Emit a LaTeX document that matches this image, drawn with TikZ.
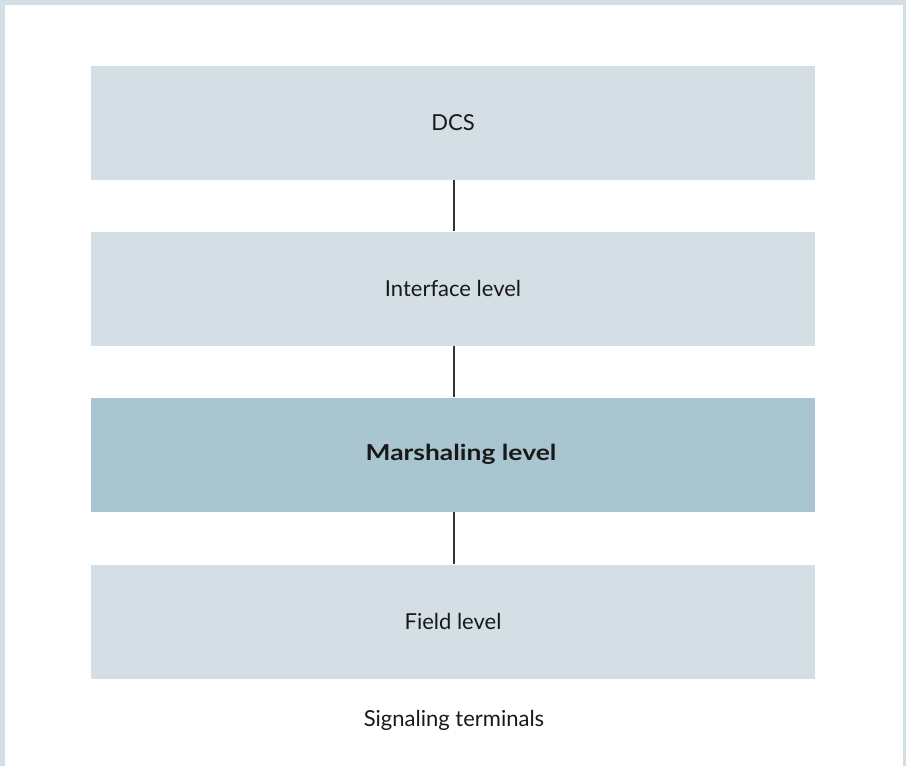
\documentclass[tikz,border=0pt]{standalone}
\usepackage{fontspec}
\setmainfont{Lato}
\newfontfamily\widebold[FakeStretch=1.2]{Lato Bold}
\definecolor{lightbox}{HTML}{D3DFE5}
\definecolor{darkbox}{HTML}{A9C5D0}
\definecolor{linegray}{HTML}{333333}
\begin{document}
\begin{tikzpicture}[x=1pt,y=-1pt,
  levelbox/.style={fill=lightbox, draw=none, minimum width=724pt, minimum height=114pt, inner sep=0pt, font=\fontsize{22}{26}\selectfont, text=black!90},
  conn/.style={draw=linegray, line width=1.5pt}]
\useasboundingbox (0,0) rectangle (906,766);
\fill[lightbox] (0,0) rectangle (906,766);
\fill[white] (5,5) rectangle (903,766);
\node[levelbox] (dcs) at (453,123) {DCS};
\node[levelbox] (iface) at (453,288.5) {Interface level};
\node[levelbox, fill=darkbox, font=\fontsize{22}{26}\widebold] (marsh) at (453,454.5) {\hspace*{16pt}Marshaling level};
\node[font=\fontsize{22}{26}\selectfont, text=black!90] (sig) at (454,720) {Signaling terminals};
\node[levelbox] (field) at (453,621.5) {Field level};
\draw[conn] ([xshift=1pt]dcs.south) -- ([xshift=1pt]iface.north);
\draw[conn] ([xshift=1pt]iface.south) -- ([xshift=1pt]marsh.north);
\draw[conn] ([xshift=1pt]marsh.south) -- ([xshift=1pt]field.north);
\end{tikzpicture}
\end{document}
